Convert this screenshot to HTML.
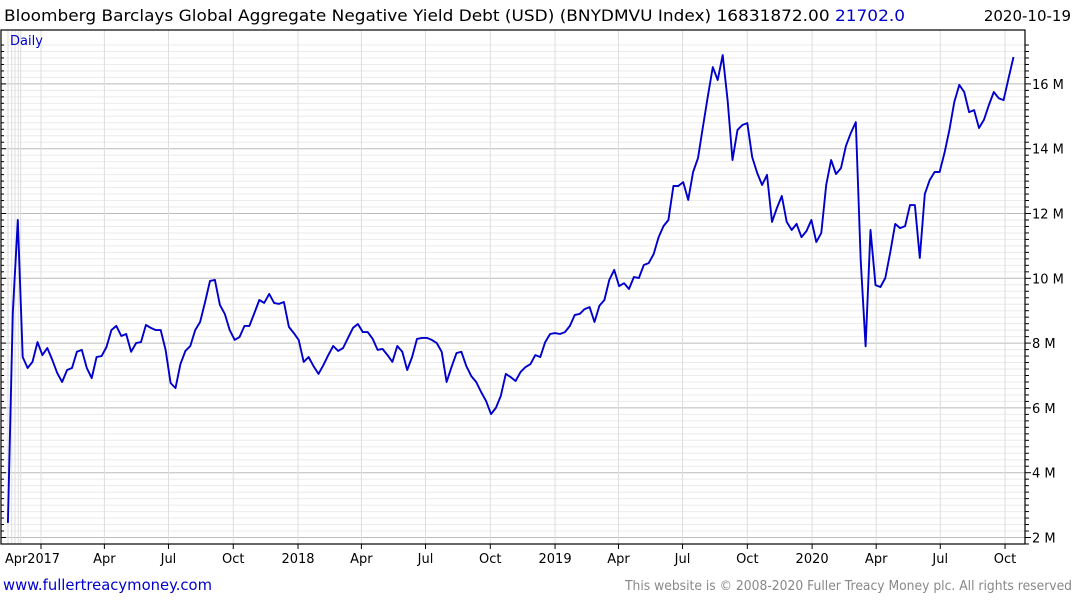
<!DOCTYPE html>
<html><head><meta charset="utf-8">
<style>
body{margin:0;background:#fff;width:1075px;height:600px;overflow:hidden;font-family:"DejaVu Sans","Liberation Sans",sans-serif;}
svg text{font-family:"DejaVu Sans","Liberation Sans",sans-serif;}
</style></head>
<body>
<svg id="chart" width="1075" height="600">
<text x="4" y="21" font-size="16" fill="#000" textLength="901" lengthAdjust="spacingAndGlyphs">Bloomberg Barclays Global Aggregate Negative Yield Debt (USD) (BNYDMVU Index) 16831872.00 <tspan fill="#0000cc">21702.0</tspan></text>
<text x="1071" y="21" font-size="15" fill="#000" text-anchor="end">2020-10-19</text>
<g id="grid"></g>
<g id="xaxis"></g>
<g id="yaxis"></g>
<path id="line" fill="none" stroke="#0000cc" stroke-width="1.9" stroke-linejoin="round"/>
<rect x="1" y="30" width="1024" height="514" fill="none" stroke="#000" stroke-width="1.2"/>
<text x="10" y="45" font-size="13" fill="#0000cc">Daily</text>
<text x="3" y="590" font-size="15" fill="#0000cc" textLength="209" lengthAdjust="spacingAndGlyphs">www.fullertreacymoney.com</text>
<text x="625" y="590" font-size="13" fill="#888" textLength="447" lengthAdjust="spacingAndGlyphs">This website is © 2008-2020 Fuller Treacy Money plc. All rights reserved</text>
</svg>
<script>
// data: weekly values in millions, starting day -47 relative to 2017-01-01
const startDay = -47;
const stepDays = 7;
const values = [2.45,8.93,11.80,7.57,7.23,7.42,8.03,7.63,7.85,7.48,
7.08,6.80,7.17,7.23,7.73,7.79,7.23,6.92,7.57,7.60,
7.88,8.40,8.53,8.22,8.28,7.73,8.00,8.03,8.56,8.47,
8.40,8.40,7.79,6.77,6.61,7.35,7.76,7.91,8.40,8.65,
9.27,9.92,9.95,9.18,8.90,8.40,8.10,8.19,8.53,8.53,
8.93,9.33,9.24,9.52,9.24,9.21,9.27,8.50,8.31,8.10,
7.42,7.57,7.29,7.05,7.32,7.63,7.91,7.76,7.85,8.16,
8.47,8.59,8.34,8.34,8.13,7.79,7.82,7.63,7.42,7.91,
7.73,7.17,7.57,8.13,8.16,8.16,8.10,8.00,7.73,6.80,
7.26,7.69,7.73,7.29,6.98,6.80,6.49,6.21,5.81,6.00,
6.37,7.05,6.95,6.83,7.11,7.26,7.35,7.63,7.57,8.03,
8.28,8.31,8.28,8.34,8.53,8.87,8.90,9.05,9.11,8.65,
9.15,9.33,9.95,10.26,9.76,9.85,9.67,10.04,10.01,10.41,
10.47,10.75,11.27,11.61,11.80,12.85,12.85,12.97,12.42,13.28,
13.71,14.67,15.63,16.52,16.12,16.89,15.50,13.65,14.58,14.73,
14.79,13.74,13.25,12.88,13.19,11.74,12.17,12.54,11.74,11.49,
11.68,11.27,11.46,11.80,11.12,11.40,12.88,13.65,13.22,13.40,
14.08,14.48,14.82,10.56,7.90,11.49,9.79,9.73,10.01,10.81,
11.68,11.55,11.61,12.26,12.26,10.63,12.60,13.03,13.28,13.28,
13.87,14.58,15.44,15.97,15.75,15.13,15.19,14.64,14.89,15.35,
15.75,15.56,15.50,16.18,16.83];
const yTicks = [2,4,6,8,10,12,14,16];
const yTickLabels = ["2 M","4 M","6 M","8 M","10 M","12 M","14 M","16 M"];
const xTickDays = [0,90,181,273,365,455,546,638,730,820,911,1003,1095,1186,1277,1369];
const xTickLabels = ["2017","Apr","Jul","Oct","2018","Apr","Jul","Oct","2019","Apr","Jul","Oct","2020","Apr","Jul","Oct"];

const NS="http://www.w3.org/2000/svg";
const X0=41, PXDAY=0.7042;
function xScale(day){return X0+day*PXDAY;}
function yScale(v){return 537.5-(v-2)*32.4;}
function mk(tag,attrs,parent){const e=document.createElementNS(NS,tag);for(const k in attrs)e.setAttribute(k,attrs[k]);parent.appendChild(e);return e;}

const grid=document.getElementById('grid');
for(let v=1.6;v<=17.2;v+=0.2){
  const r=Math.round(v*10)/10;const major=Math.abs(r/2-Math.round(r/2))<1e-6;
  const y=yScale(r); if(y<30||y>544)continue;
  const l=mk('line',{x1:1,x2:1025,y1:y,y2:y,stroke:major?'#bbb':'#ebebeb','stroke-width':1},grid);
  
  
  const t1=mk('line',{x1:1,x2:major?6:4,y1:y,y2:y,stroke:'#000'},grid);
  
  
  const t2=mk('line',{x1:1025,x2:major?1031:1029,y1:y,y2:y,stroke:'#000'},grid);
  
  
}
[8,11.7,15,18.3,20.7].forEach(x=>{
  const l=mk('line',{x1:x,x2:x,y1:30,y2:544,stroke:'#ddd'},grid);
  
  
});
const xa=document.getElementById('xaxis');
xTickDays.forEach((d,i)=>{
  const x=xScale(d);
  const l=mk('line',{x1:x,x2:x,y1:30,y2:544,stroke:'#ddd'},grid);
  
  
  const t=mk('line',{x1:x,x2:x,y1:544,y2:549,stroke:'#000'},xa);
  
  
  if(i>0){
    const tx=mk('text',{x:x,y:563,'font-size':13,'text-anchor':'middle',fill:'#000'},xa);
    tx.textContent=xTickLabels[i];
    
    
  }
});
const first=mk('text',{x:5,y:563,'font-size':13,fill:'#000',textLength:55,lengthAdjust:'spacingAndGlyphs'},xa);
first.textContent="Apr"+xTickLabels[0];



const ya=document.getElementById('yaxis');
yTicks.forEach((v,i)=>{
  const t=mk('text',{x:1032,y:yScale(v)+5,'font-size':13,fill:'#000'},ya);
  t.textContent=yTickLabels[i];
  
  
});

let d='';
values.forEach((v,i)=>{
  const x=xScale(startDay+i*stepDays), y=yScale(v);
  d+=(i?'L':'M')+x.toFixed(1)+' '+y.toFixed(1);
});
document.getElementById('line').setAttribute('d',d);
</script>
</body></html>
